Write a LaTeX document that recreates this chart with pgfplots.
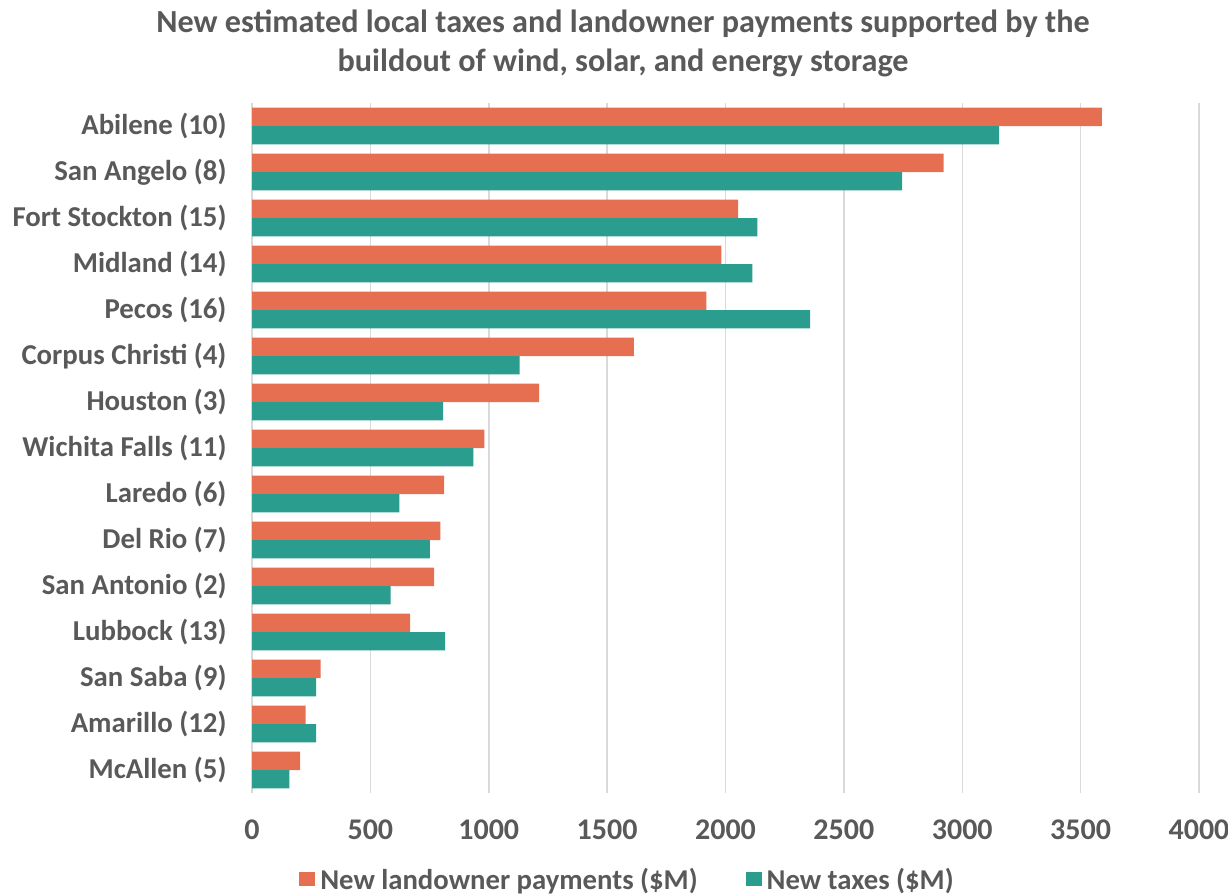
\documentclass[border=0pt]{standalone}
\usepackage{fontspec}
\setmainfont{Carlito}
\usepackage{pgfplots}
\pgfplotsset{compat=1.18}
\usepackage{pgfplotstable}
\definecolor{lorange}{HTML}{E76F51}
\definecolor{lteal}{HTML}{2A9D8F}
\definecolor{txtgray}{HTML}{595959}
\definecolor{gridgray}{HTML}{D9D9D9}
\pgfplotstableread{
idx land tax
0 3590 3156
1 2921 2746
2 2053 2135
3 1983 2113
4 1919 2357
5 1613 1130
6 1213 807
7 982 935
8 811 623
9 796 751
10 769 585
11 668 816
12 290 271
13 227 271
14 203 158
}\datatable
\begin{document}
\begin{tikzpicture}[x=1pt,y=1pt]
\useasboundingbox (0,0) rectangle (1228,895);
\begin{axis}[
  at={(252pt,102pt)}, anchor=south west,
  scale only axis, width=947pt, height=690pt,
  xmin=0, xmax=4000, ymin=-0.5, ymax=14.5,
  y dir=reverse,
  xtick={0,500,...,4000},
  ytick={0,...,14},
  yticklabels={Abilene (10),San Angelo (8),Fort Stockton (15),Midland (14),Pecos (16),Corpus Christi (4),Houston (3),Wichita Falls (11),Laredo (6),Del Rio (7),San Antonio (2),Lubbock (13),San Saba (9),Amarillo (12),McAllen (5)},
  major tick length=0,
  axis line style={draw=none},
  xmajorgrids, grid style={gridgray, line width=1.5pt},
  /pgf/number format/assume math mode=true,
  /pgf/number format/1000 sep={},
  xticklabel style={font=\fontsize{30}{34}\selectfont\bfseries, text=txtgray, yshift=-23pt},
  yticklabel style={font=\fontsize{28.8}{33}\selectfont\bfseries, text=txtgray, xshift=-22pt},
  xbar, bar width=0.4,
  legend style={at={(0.3965,-0.126)}, anchor=center, draw=none, fill=none,
    font=\fontsize{28.7}{33}\selectfont\bfseries, text=txtgray,
    /tikz/every even column/.append style={column sep=46pt}},
  legend columns=2,
  legend image code/.code={\fill[#1] (0pt,-6pt) rectangle (16pt,8pt); \path (19pt,0pt);},
  clip=false,
]
\addplot[fill=lorange, draw=none, bar shift=-0.2] table[x=land, y=idx] {\datatable};
\addplot[fill=lteal, draw=none, bar shift=0.2] table[x=tax, y=idx] {\datatable};
\legend{New landowner payments (\$M), New taxes (\$M)}
\end{axis}
\node[anchor=base, text=txtgray, font=\fontsize{32.2}{37}\selectfont\bfseries] at (623,862) {New estimated local taxes and landowner payments supported by the};
\node[anchor=base, text=txtgray, font=\fontsize{32.2}{37}\selectfont\bfseries] at (623,823) {buildout of wind, solar, and energy storage};
\end{tikzpicture}
\end{document}
